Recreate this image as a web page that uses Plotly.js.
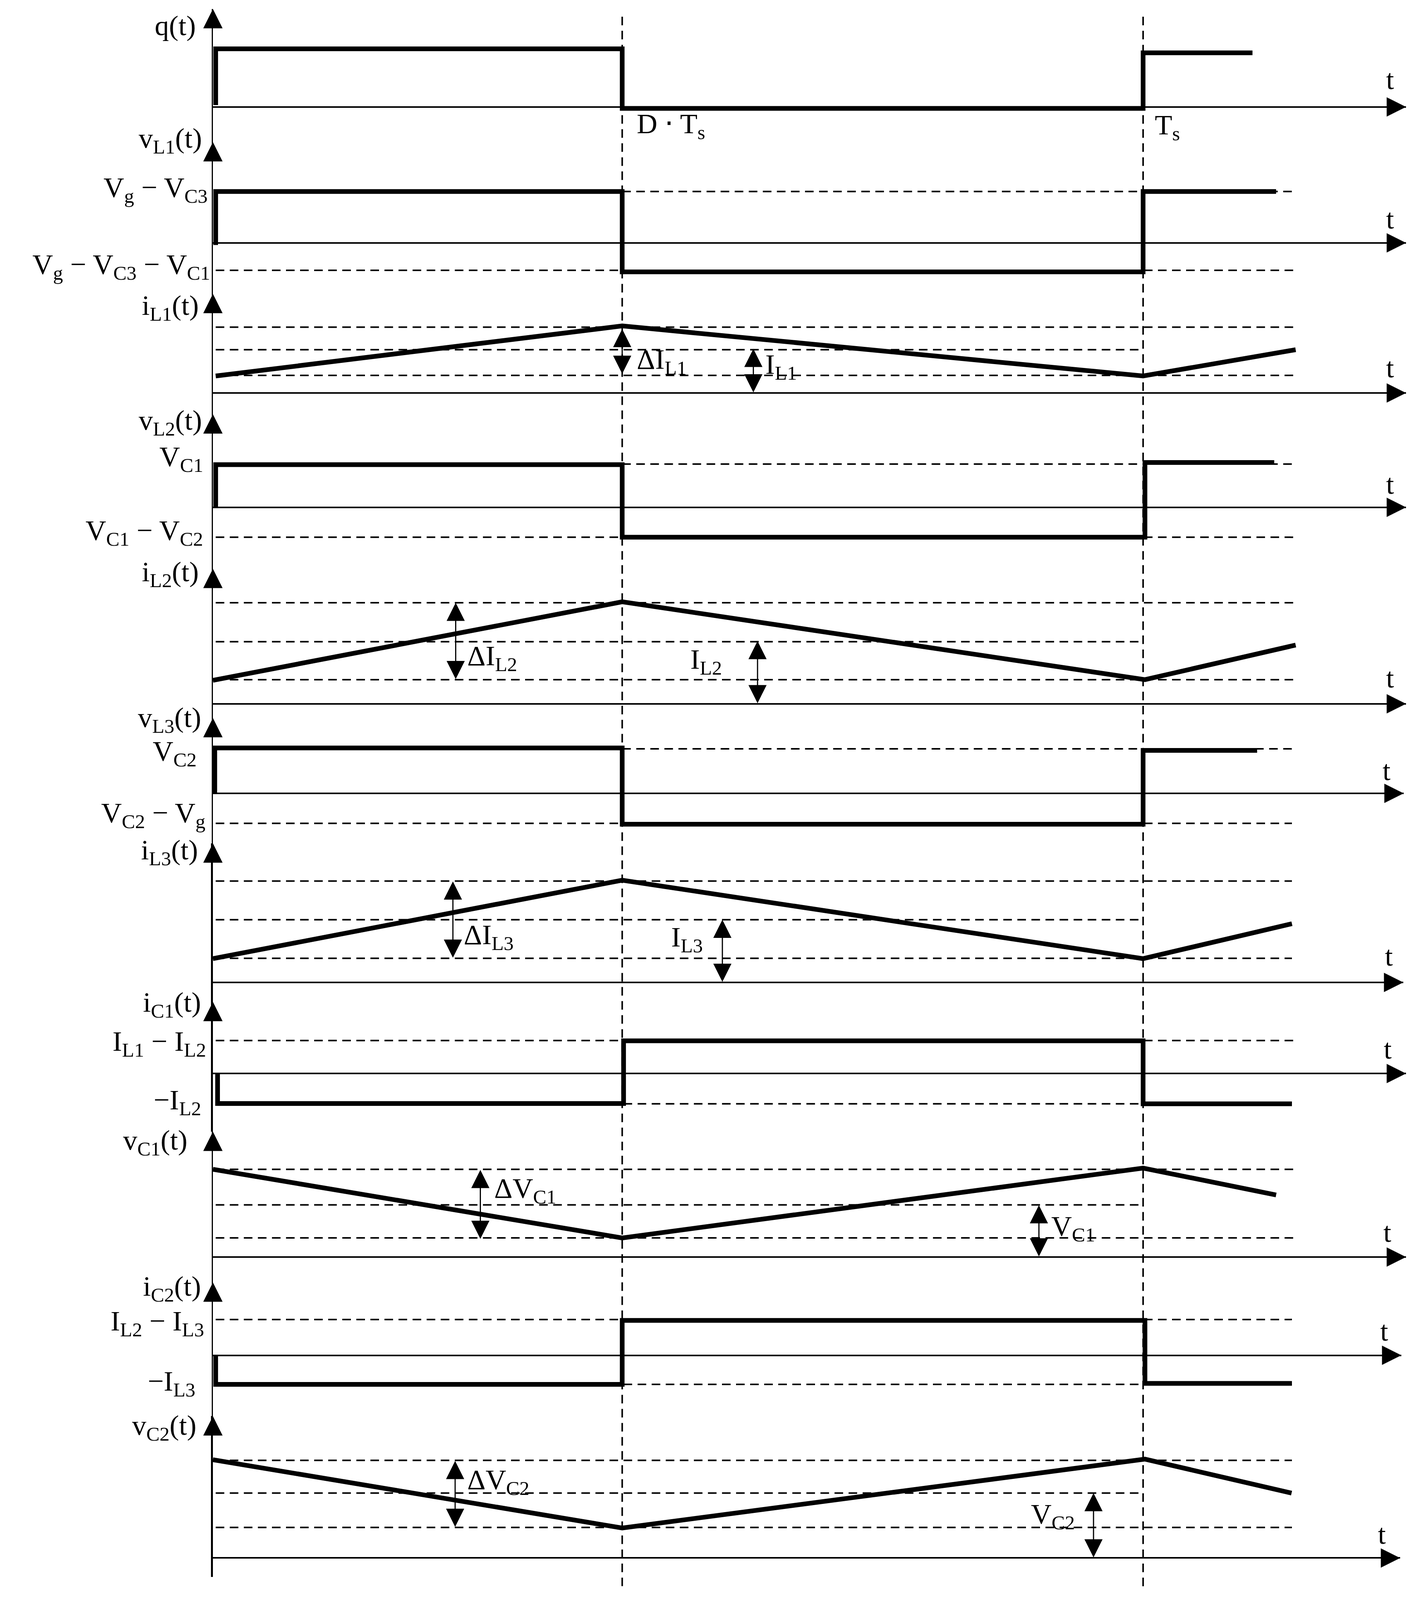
<!DOCTYPE html>
<html>
<head>
<meta charset="utf-8">
<script src="https://cdn.plot.ly/plotly-3.0.1.min.js"></script>
<style>body { margin: 0; background: #fff; }</style>
</head>
<body>
<div id="graph"></div>
<script>
// time is in switching periods, levels are heights above each panel's own time axis
const D = 0.44
const END = 1.164

const panelNames = ['q(t)', 'v<sub>L1</sub>(t)', 'i<sub>L1</sub>(t)', 'v<sub>L2</sub>(t)', 'i<sub>L2</sub>(t)', 'v<sub>L3</sub>(t)',
  'i<sub>L3</sub>(t)', 'i<sub>C1</sub>(t)', 'v<sub>C1</sub>(t)', 'i<sub>C2</sub>(t)', 'v<sub>C2</sub>(t)']

const qT = [0.003, 0.003, D, D, 1, 1, 1.1176]
const qV = [6, 188, 188, -5, -5, 175, 175]
const vL1T = [0.003, 0.003, D, D, 1, 1, 1.143]
const vL1V = [-7, 166, 166, -94, -94, 166, 166]
const iL1T = [0.003, D, 1, 1.164]
const iL1V = [55, 217, 55, 140]
const vL2T = [0.003, 0.003, D, D, 1.002, 1.002, 1.141]
const vL2V = [0, 138, 138, -97, -97, 145, 145]
const iL2T = [0, D, 1.002, 1.164]
const iL2V = [76, 330, 78, 190]
const vL3T = [0.002, 0.002, D, D, 1, 1, 1.1226]
const vL3V = [0, 147, 147, -100, -100, 139, 139]
const iL3T = [0, D, 1, 1.16]
const iL3V = [77, 331, 77, 190]
const iC1T = [0.005, 0.005, 0.4415, 0.4415, 1, 1, 1.16]
const iC1V = [0, -97, -97, 106, 106, -98, -98]
const vC1T = [0, D, 1, 1.143]
const vC1V = [284, 62, 288, 201]
const iC2T = [0.003, 0.003, D, D, 1.002, 1.002, 1.16]
const iC2V = [0, -94, -94, 113, 113, -91, -91]
const vC2T = [0, D, 1.002, 1.1596]
const vC2V = [318, 97, 320, 210]

const seriesT = [qT, vL1T, iL1T, vL2T, iL2T, vL3T, iL3T, iC1T, vC1T, iC2T, vC2T]
const seriesV = [qV, vL1V, iL1V, vL2V, iL2V, vL3V, iL3V, iC1V, vC1V, iC2V, vC2V]

// dashed guide levels per panel
const guideV = [[], [166, -89], [213, 140, 57], [140, -97], [327, 201, 78], [144, -97],
  [328, 203, 78], [107, -98], [284, 169, 62], [116, -94], [316, 210, 99]]
const guideFrom = [[], [D, 0.003], [0.003, 0.003, 0.003], [D, 0.003], [0.003, 0.003, 0.003], [D, 0.003],
  [0.003, 0.003, 0.003], [0.003, 0.003], [0.003, 0.003, 0.003], [0.003, 0.003], [0.003, 0.003, 0.003]]
const guideTo = [[], [END, END], [END, 1, END], [END, END], [END, 1, END], [1.16, 1.16],
  [1.16, 1, 1.16], [END, 1.16], [END, 1, END], [1.16, 1.16], [1.16, 1, 1.16]]

// double headed measure arrows: panel, time, upper, lower
const measurePanel = [2, 2, 4, 4, 6, 6, 8, 8, 10, 10]
const measureT = [D, 0.581, 0.261, 0.5855, 0.258, 0.5477, 0.2875, 0.888, 0.2604, 0.9467]
const measureHi = [207, 143, 327, 203, 327, 203, 282, 168, 314, 210]
const measureLo = [60, 0, 78, 0, 78, 0, 57, 0, 99, 0]

const measureNames = ['ΔI<sub>L1</sub>', 'I<sub>L1</sub>', 'ΔI<sub>L2</sub>', 'I<sub>L2</sub>', 'ΔI<sub>L3</sub>', 'I<sub>L3</sub>',
  'ΔV<sub>C1</sub>', 'V<sub>C1</sub>', 'ΔV<sub>C2</sub>', 'V<sub>C2</sub>']
const levelNames = ['V<sub>g</sub> − V<sub>C3</sub>', 'V<sub>g</sub> − V<sub>C3</sub> − V<sub>C1</sub>', 'V<sub>C1</sub>', 'V<sub>C1</sub> − V<sub>C2</sub>',
  'V<sub>C2</sub>', 'V<sub>C2</sub> − V<sub>g</sub>', 'I<sub>L1</sub> − I<sub>L2</sub>', '−I<sub>L2</sub>', 'I<sub>L2</sub> − I<sub>L3</sub>', '−I<sub>L3</sub>']
const timeNames = ['D ⋅ T<sub>s</sub>', 'T<sub>s</sub>']

// page layout, in pixels of the 3622x5179 drawing
const W = 3622
const H = 5179
const X0 = 545
const PERIOD = 2381
const base = [346, 786, 1272, 1642, 2278, 2568, 3180, 3475, 4069, 4387, 5043]
const tipY = [29, 460, 951, 1341, 1841, 2324, 2730, 3243, 3663, 4151, 4584]
const tipX = [3599, 3599, 3599, 3599, 3599, 3593, 3592, 3599, 3599, 3587, 3584]
const axisW = [3, 3, 3, 3, 3, 3, 5, 5, 3, 3, 5]
const AXIS_BOTTOM = 5104
const BLACK = '#000'
const SERIF = 'Liberation Serif, serif'

// follow the window height so nothing falls off when the window is shorter than asked
const pageH = Math.min(window.innerHeight || H, H)
const squeeze = pageH / H
const FONT = 82 * Math.sqrt(squeeze)

const toT = px => (px - X0) / PERIOD
const px2paperX = px => px / W
const px2paperY = px => 1 - px / H

var traces = []
var annotations = []
var layout = {
  width: W,
  height: pageH,
  margin: { l: 0, r: 0, t: 0, b: 0 },
  paper_bgcolor: '#fff',
  plot_bgcolor: 'rgba(0,0,0,0)',
  showlegend: false,
  hovermode: false,
  shapes: [D, 1].map((t, i) => ({
    type: 'line',
    xref: 'x',
    yref: 'paper',
    x0: t,
    x1: t,
    y0: px2paperY(54),
    y1: px2paperY(i == 0 ? 5134 : 5142),
    line: { color: BLACK, width: 4, dash: '22px,14px' }
  }))
}

base.forEach((b, i) => {
  var n = i == 0 ? '' : i + 1
  var xa = 'x' + n
  var ya = 'y' + n
  var bottom = i < base.length - 1 ? tipY[i + 1] : AXIS_BOTTOM

  layout['xaxis' + n] = {
    visible: false,
    anchor: ya,
    domain: [px2paperX(X0), px2paperX(tipX[i])],
    range: [0, toT(tipX[i])]
  }
  layout['yaxis' + n] = {
    anchor: xa,
    domain: [px2paperY(bottom), px2paperY(tipY[i])],
    range: [b - bottom, b - tipY[i]],
    showgrid: false,
    showticklabels: false,
    ticks: '',
    showline: true,
    linecolor: BLACK,
    linewidth: axisW[i],
    zeroline: true,
    zerolinecolor: BLACK,
    zerolinewidth: 4
  }

  guideV[i].forEach((v, k) => {
    traces.push({
      x: [guideFrom[i][k], guideTo[i][k]],
      y: [v, v],
      xaxis: xa,
      yaxis: ya,
      mode: 'lines',
      line: { color: BLACK, width: 4, dash: '22px,14px' }
    })
  })

  traces.push({
    x: seriesT[i],
    y: seriesV[i],
    xaxis: xa,
    yaxis: ya,
    mode: 'lines',
    line: { color: BLACK, width: 12 }
  })

  // axis arrow heads
  annotations.push({
    xref: xa, yref: ya, axref: xa, ayref: ya,
    x: 0, y: b - tipY[i], ax: 0, ay: b - tipY[i] - 48 / squeeze,
    text: '', showarrow: true, arrowhead: 2, arrowwidth: 3, arrowsize: 3.3, arrowcolor: BLACK
  })
  annotations.push({
    xref: xa, yref: ya, axref: xa, ayref: ya,
    x: toT(tipX[i]), y: 0, ax: toT(tipX[i] - 50), ay: 0,
    text: '', showarrow: true, arrowhead: 2, arrowwidth: 3, arrowsize: 3.3, arrowcolor: BLACK
  })
})

measureT.forEach((t, i) => {
  var n = measurePanel[i] + 1
  annotations.push({
    xref: 'x' + n, yref: 'y' + n, axref: 'x' + n, ayref: 'y' + n,
    x: t, y: measureHi[i], ax: t, ay: measureLo[i],
    text: '', showarrow: true, arrowside: 'end+start',
    arrowhead: 2, startarrowhead: 2, arrowwidth: 3, arrowsize: 3.1, startarrowsize: 3.1, arrowcolor: BLACK
  })
})

function label (text, px, py, anchor) {
  annotations.push({
    xref: 'paper', yref: 'paper',
    x: px2paperX(px), y: px2paperY(py),
    xanchor: anchor, yanchor: 'middle',
    text: text, showarrow: false,
    font: { family: SERIF, size: FONT, color: BLACK }
  })
}

const nameRight = [503, 519, 511, 519, 511, 517, 509, 517, 482, 517, 505]
const nameY = [83, 453, 995, 1366, 1857, 2328, 2757, 3250, 3696, 4170, 4619]
panelNames.forEach((s, i) => label(s, nameRight[i], nameY[i], 'right'))

const levelRight = [534, 540, 522, 522, 505, 528, 530, 517, 525, 502]
const levelY = [613, 862, 1484, 1723, 2437, 2637, 3377, 3566, 4282, 4476]
levelNames.forEach((s, i) => label(s, levelRight[i], levelY[i], 'right'))

const measureLeft = [1628, 1957, 1194, 1765, 1185, 1716, 1263, 2689, 1194, 2637]
const measureY = [1169, 1185, 2129, 2140, 3031, 3039, 3852, 3975, 4795, 4907]
measureNames.forEach((s, i) => label(s, measureLeft[i], measureY[i], 'left'))

label(timeNames[0], 1628, 406, 'left')
label(timeNames[1], 2954, 410, 'left')

const tX = [3558, 3558, 3558, 3558, 3558, 3549, 3555, 3552, 3551, 3543, 3537]
const tLabelY = [257, 709, 1190, 1567, 2195, 2494, 3095, 3396, 3988, 4308, 4966]
tX.forEach((x, i) => label('t', x, tLabelY[i], 'center'))

layout.annotations = annotations

Plotly.newPlot('graph', traces, layout, { displayModeBar: false, staticPlot: true })
</script>
</body>
</html>
